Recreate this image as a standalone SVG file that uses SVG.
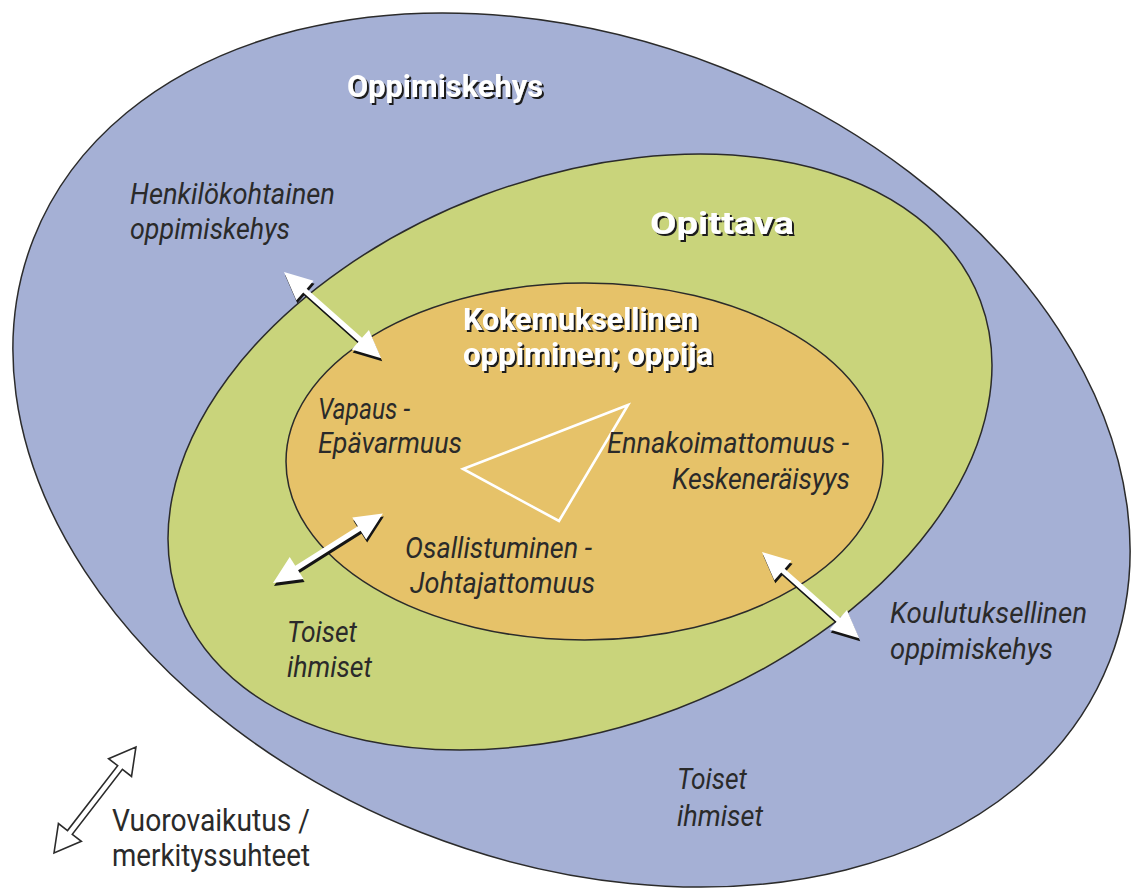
<svg xmlns="http://www.w3.org/2000/svg" xmlns:xlink="http://www.w3.org/1999/xlink" width="1131" height="888" viewBox="0 0 1131 888">
  <style>
    .ring { stroke: #2b2b2b; stroke-width: 1.5; }
    .outer { fill: #a5b0d5; }
    .mid { fill: #c9d47b; }
    .inner { fill: #e6c269; }
    .lbl { font-family: Roboto, "Liberation Sans", sans-serif; font-style: italic; font-size: 30px; fill: #2a2a2a; }
    .ttl { font-family: Roboto, "Liberation Sans", sans-serif; font-weight: 700; font-size: 32px; fill: #ffffff; filter: url(#hardShadow); }
    .legend { font-family: Roboto, "Liberation Sans", sans-serif; font-size: 31px; fill: #2a2a2a; }
    .arr { fill: #ffffff; }
    .arr-sh { fill: #151515; }
    .arr-key { fill: #ffffff; stroke: #2b2b2b; stroke-width: 1.6; stroke-linejoin: miter; }
    .tri { fill: none; stroke: #ffffff; stroke-width: 2.6; stroke-linejoin: miter; }
  </style>
  <defs>
    <!-- crisp dark offset shadow behind the white headings -->
    <filter id="hardShadow" x="-5%" y="-20%" width="115%" height="150%">
      <feOffset in="SourceAlpha" dx="2" dy="2" result="off"/>
      <feFlood flood-color="#1e1e1e"/>
      <feComposite in2="off" operator="in" result="shadow"/>
      <feMerge>
        <feMergeNode in="shadow"/>
        <feMergeNode in="SourceGraphic"/>
      </feMerge>
    </filter>
    <!-- double-headed arrow laid out along +x, length 130 -->
    <path id="dbl" d="M0,0 L28,-13 L28,-2.6 L102,-2.6 L102,-13 L130,0 L102,13 L102,2.6 L28,2.6 L28,13 Z"/>
    <!-- outlined double arrow used in the key, length 134 -->
    <path id="dblKey" d="M0,0 L26,-14.5 L26,-3 L108,-3 L108,-14.5 L134,0 L108,14.5 L108,3 L26,3 L26,14.5 Z"/>
  </defs>

  <rect width="1131" height="888" fill="#ffffff"/>

  <!-- outer frame: learning framework -->
  <g id="oppimiskehys">
    <ellipse class="ring outer" cx="571.5" cy="450" rx="578" ry="411" transform="rotate(21.44 571.5 450)"/>
    <text class="ttl" x="347" y="97" textLength="196" lengthAdjust="spacingAndGlyphs">Oppimiskehys</text>
  </g>

  <!-- middle ring: the learner -->
  <g id="opittava">
    <ellipse class="ring mid" cx="580" cy="452" rx="428" ry="274.4" transform="rotate(-20.7 580 452)"/>
    <text class="ttl" x="650" y="234" textLength="144" lengthAdjust="spacingAndGlyphs">Opittava</text>
  </g>

  <!-- inner core: experiential learning -->
  <g id="kokemuksellinen">
    <ellipse class="ring inner" cx="584.5" cy="461.5" rx="298.5" ry="178.5"/>
    <text class="ttl" x="463" y="330" textLength="235" lengthAdjust="spacingAndGlyphs">Kokemuksellinen</text>
    <text class="ttl" x="463" y="365" textLength="250" lengthAdjust="spacingAndGlyphs">oppiminen; oppija</text>
  </g>

  <!-- triangle of tensions -->
  <g id="kolmio">
    <polygon class="tri" points="628,405 463,469 559,521"/>
  </g>

  <g id="vapaus">
    <text class="lbl" x="318" y="419" textLength="92" lengthAdjust="spacingAndGlyphs">Vapaus -</text>
    <text class="lbl" x="318" y="453" textLength="144" lengthAdjust="spacingAndGlyphs">Epävarmuus</text>
  </g>

  <g id="ennakoimattomuus">
    <text class="lbl" x="607" y="453" textLength="242" lengthAdjust="spacingAndGlyphs">Ennakoimattomuus -</text>
    <text class="lbl" x="672" y="489" textLength="178" lengthAdjust="spacingAndGlyphs">Keskeneräisyys</text>
  </g>

  <g id="osallistuminen">
    <text class="lbl" x="405" y="558" textLength="187" lengthAdjust="spacingAndGlyphs">Osallistuminen -</text>
    <text class="lbl" x="410" y="593" textLength="185" lengthAdjust="spacingAndGlyphs">Johtajattomuus</text>
  </g>

  <g id="henkilokohtainen">
    <text class="lbl" x="130" y="204" textLength="205" lengthAdjust="spacingAndGlyphs">Henkilökohtainen</text>
    <text class="lbl" x="130" y="239" textLength="160" lengthAdjust="spacingAndGlyphs">oppimiskehys</text>
  </g>

  <g id="koulutuksellinen">
    <text class="lbl" x="890" y="623" textLength="197" lengthAdjust="spacingAndGlyphs">Koulutuksellinen</text>
    <text class="lbl" x="890" y="659" textLength="163" lengthAdjust="spacingAndGlyphs">oppimiskehys</text>
  </g>

  <g id="toiset-sisa">
    <text class="lbl" x="287" y="642" textLength="70" lengthAdjust="spacingAndGlyphs">Toiset</text>
    <text class="lbl" x="287" y="677" textLength="85" lengthAdjust="spacingAndGlyphs">ihmiset</text>
  </g>

  <g id="toiset-ulko">
    <text class="lbl" x="677" y="789" textLength="70" lengthAdjust="spacingAndGlyphs">Toiset</text>
    <text class="lbl" x="677" y="826" textLength="86" lengthAdjust="spacingAndGlyphs">ihmiset</text>
  </g>

  <!-- interaction arrows between the layers -->
  <g id="connectors">
    <g transform="translate(1,3)">
      <use xlink:href="#dbl" class="arr-sh" transform="translate(284,272) rotate(41.6)"/>
      <use xlink:href="#dbl" class="arr-sh" transform="translate(273,583) rotate(-32.3)"/>
      <use xlink:href="#dbl" class="arr-sh" transform="translate(762,552) rotate(41.6)"/>
    </g>
    <use xlink:href="#dbl" class="arr" transform="translate(284,272) rotate(41.6)"/>
    <use xlink:href="#dbl" class="arr" transform="translate(273,583) rotate(-32.3)"/>
    <use xlink:href="#dbl" class="arr" transform="translate(762,552) rotate(41.6)"/>
  </g>

  <!-- key -->
  <g id="selite">
    <use xlink:href="#dblKey" class="arr-key" transform="translate(54,853) rotate(-52.3)"/>
    <text class="legend" x="112" y="831" textLength="198" lengthAdjust="spacingAndGlyphs">Vuorovaikutus /</text>
    <text class="legend" x="112" y="866" textLength="198" lengthAdjust="spacingAndGlyphs">merkityssuhteet</text>
  </g>
</svg>
